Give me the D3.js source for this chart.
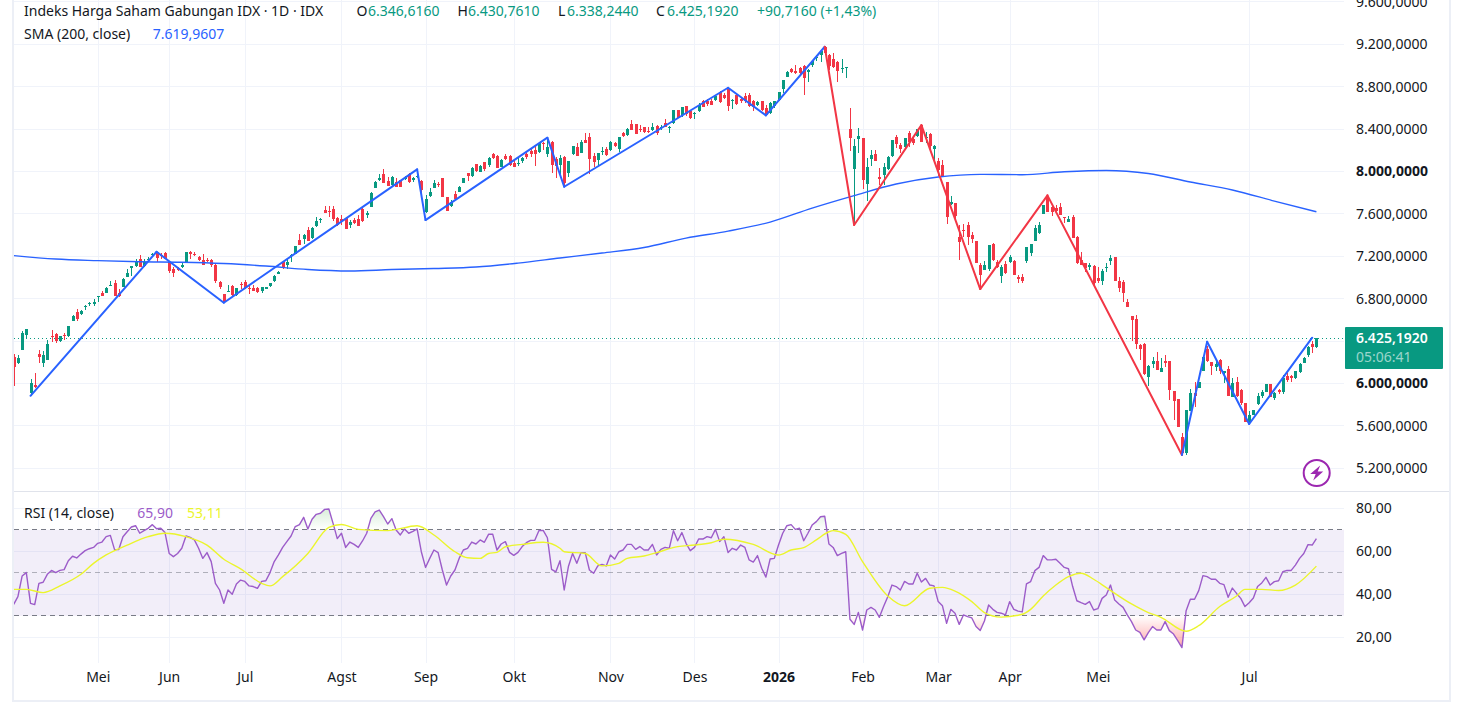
<!DOCTYPE html>
<html lang="id">
<head>
<meta charset="utf-8">
<title>Indeks Harga Saham Gabungan IDX</title>
<script src="https://cdnjs.cloudflare.com/ajax/libs/d3/7.8.5/d3.min.js"></script>
<style>
  html, body { margin: 0; padding: 0; background: #fff; overflow: hidden; }
  svg { display: block; font-family: "Noto Sans", "Open Sans", sans-serif; }
  text { font-size: 14px; fill: #131722; }
</style>
</head>
<body>
<svg id="chart" width="1462" height="715"></svg>
<script>
// Daily candles, one entry per trading session
const candleOpen = [
6253,6190,6316,6454,5907,5986,6278,6196,6221,6448,
6470,6404,6454,6448,6593,6674,6655,6718,6753,6750,
6816,6850,6857,6923,6945,6850,6913,7005,7093,7105,
7174,7108,7162,7209,7240,7212,7231,7143,7077,7089,
7102,7143,7237,7222,7193,7165,7162,7165,7118,6961,
6841,6863,6920,6838,6939,6954,6901,6898,6901,6876,
6894,6920,6967,7036,7143,7121,7203,7225,7354,7363,
7448,7373,7485,7542,7636,7630,7643,7561,7548,7564,
7492,7542,7548,7646,7586,7668,7847,7916,7976,7907,
7872,7901,7919,7929,7976,7919,7951,7910,7621,7772,
7847,7885,7938,7756,7674,7784,7809,7894,7982,7957,
8067,7998,8086,8061,8164,8142,8045,8146,8146,8079,
8070,8095,8168,8196,8202,8183,8268,8164,8278,8114,
8061,8139,7985,8164,8234,8174,8297,8325,8146,8108,
8186,8215,8202,8271,8212,8366,8341,8447,8444,8400,
8416,8385,8391,8429,8410,8457,8410,8460,8576,8529,
8617,8570,8548,8573,8664,8661,8668,8674,8749,8724,
8781,8664,8718,8686,8712,8718,8668,8624,8664,8598,
8548,8617,8671,8775,8891,8966,8951,8973,8995,8938,
9001,9067,9102,9177,9098,9061,9036,8970,8976,8397,
8026,8306,8313,7885,8121,8165,7945,7967,8020,8146,
8325,8250,8234,8360,8303,8338,8438,8322,8354,8212,
8099,8061,7897,7693,7699,7385,7448,7495,7404,7347,
7121,7070,7077,7316,7149,7017,7127,7149,7158,7001,
7004,7158,7234,7347,7416,7599,7756,7668,7655,7662,
7570,7526,7570,7382,7165,7139,7102,7108,6992,6970,
7092,7155,7190,6967,6957,6772,6633,6605,6363,6372,
6064,6184,6215,6111,6215,6212,5929,5853,5492,5347,
5743,5907,5960,6121,6328,6202,6158,6221,6095,6133,
5875,6014,5938,5812,5624,5702,5806,5882,5923,5992,
5866,5938,5923,6067,6070,6051,6108,6196,6265,6372,
6346.6];

const candleHigh = [
6278,6269,6495,6514,6042,6096,6316,6306,6410,6504,
6479,6448,6473,6542,6643,6699,6693,6737,6769,6794,
6825,6872,6913,6970,6976,6888,6992,7077,7108,7171,
7212,7171,7190,7234,7244,7228,7240,7159,7096,7096,
7134,7240,7250,7237,7203,7222,7181,7174,7134,6964,
6844,6926,6926,6901,6961,6976,6920,6929,6913,6913,
6913,6951,7023,7064,7159,7171,7222,7297,7410,7410,
7479,7473,7573,7558,7677,7677,7674,7567,7589,7573,
7542,7558,7589,7662,7630,7809,7910,7976,8023,7951,
7960,7935,7919,7957,7982,7951,7998,7919,7778,7841,
7919,7904,7941,7762,7731,7819,7863,7941,7989,8039,
8070,8061,8092,8133,8171,8155,8114,8164,8155,8108,
8124,8139,8193,8218,8240,8271,8281,8297,8287,8133,
8152,8146,8101,8240,8265,8297,8359,8359,8171,8177,
8234,8227,8287,8281,8328,8375,8407,8485,8447,8438,
8416,8422,8454,8438,8438,8491,8429,8580,8580,8611,
8620,8580,8561,8642,8674,8680,8680,8721,8762,8737,
8784,8680,8731,8699,8737,8737,8674,8661,8668,8627,
8655,8668,8752,8863,8951,8973,9004,8982,9004,8963,
9051,9095,9139,9183,9108,9114,9045,9061,8982,8596,
8303,8407,8313,8124,8199,8203,8030,8083,8146,8297,
8344,8265,8319,8382,8328,8397,8445,8375,8360,8250,
8130,8108,7904,7769,7706,7495,7504,7526,7432,7347,
7133,7155,7309,7322,7165,7117,7158,7212,7165,7023,
7033,7290,7316,7495,7526,7687,7762,7690,7684,7699,
7573,7580,7589,7391,7240,7139,7133,7117,7102,7077,
7133,7212,7190,7001,6976,6794,6637,6646,6372,6379,
6174,6246,6297,6237,6268,6215,5932,5856,5529,5750,
5945,6017,6017,6253,6353,6206,6215,6228,6121,6165,
6048,6058,5945,5812,5737,5750,5907,5938,5995,5995,
5923,5945,6080,6095,6080,6118,6196,6253,6353,6404,
6430.8];

const candleLow = [
5976,6184,6316,6423,5885,5954,6196,6159,6221,6394,
6385,6394,6410,6435,6586,6593,6646,6693,6731,6731,
6769,6825,6850,6920,6825,6813,6907,7001,7017,7096,
7096,7102,7149,7196,7143,7171,7171,7045,7008,7064,
7086,7140,7178,7203,7156,7121,7146,7102,6945,6888,
6762,6863,6825,6828,6888,6888,6844,6869,6857,6857,
6891,6913,6961,7033,7077,7077,7146,7222,7306,7316,
7344,7363,7479,7517,7605,7573,7536,7485,7495,7454,
7463,7504,7485,7526,7558,7662,7841,7913,7888,7863,
7866,7850,7850,7919,7894,7904,7941,7762,7605,7762,
7841,7856,7756,7630,7668,7731,7803,7891,7913,7951,
7998,7998,8007,8045,8114,8029,8039,8108,8054,8039,
8051,8076,8114,8139,8051,8177,8202,8139,7982,7935,
7976,7856,7944,8158,8146,8171,8265,7973,8039,8051,
8155,8146,8196,8227,8186,8322,8334,8391,8350,8375,
8366,8359,8385,8344,8391,8416,8366,8447,8501,8510,
8523,8498,8498,8564,8605,8617,8624,8668,8642,8680,
8573,8592,8627,8649,8642,8611,8570,8617,8573,8523,
8542,8595,8668,8743,8888,8932,8919,8919,8721,8847,
8988,9045,9036,9098,8957,8973,8847,8926,8885,8196,
7495,8177,7831,7725,8055,8102,7872,7872,8014,8133,
8218,8171,8218,8228,8250,8328,8281,8265,8203,8092,
7957,7945,7501,7684,7542,7165,7385,7306,7328,7133,
6897,7070,7061,7158,7086,6951,7033,7140,7023,6944,
6951,7133,7202,7347,7410,7599,7621,7580,7611,7589,
7517,7523,7375,7127,7117,7055,7070,6913,6951,6929,
7055,7117,6970,6866,6772,6718,6404,6325,6221,6080,
5976,6143,6127,6111,6152,5844,5655,5592,5334,5325,
5743,5781,5954,6121,6206,6080,6121,6089,6001,5882,
5869,5869,5797,5640,5617,5702,5800,5860,5923,5869,
5844,5901,5901,6017,6017,6039,6102,6196,6253,6290,
6338.2];

const candleClose = [
6159,6237,6473,6514,6001,5964,6250,6269,6372,6435,
6401,6445,6445,6539,6637,6611,6684,6731,6759,6766,
6822,6828,6901,6929,6828,6825,6986,7042,7105,7149,
7096,7149,7171,7222,7187,7203,7178,7064,7045,7074,
7118,7237,7222,7209,7168,7121,7156,7115,6970,6907,
6769,6869,6832,6898,6932,6901,6888,6876,6863,6907,
6907,6945,7017,7055,7086,7149,7212,7297,7310,7401,
7347,7464,7536,7548,7611,7624,7548,7492,7536,7460,
7526,7511,7485,7532,7611,7800,7901,7941,7894,7866,
7951,7856,7856,7951,7901,7935,7960,7825,7740,7803,
7894,7875,7762,7630,7715,7737,7856,7935,7957,8029,
8001,8055,8023,8127,8124,8032,8105,8114,8061,8042,
8079,8124,8133,8164,8164,8265,8259,8227,8061,8054,
8127,7894,8095,8237,8149,8274,8271,8120,8086,8171,
8193,8158,8278,8240,8322,8334,8400,8394,8356,8391,
8372,8372,8416,8359,8416,8422,8422,8576,8507,8605,
8542,8504,8554,8630,8611,8636,8630,8715,8652,8696,
8617,8674,8639,8661,8661,8620,8611,8655,8580,8529,
8649,8661,8746,8859,8941,8941,8926,8926,8885,8960,
9045,9076,9133,9114,8995,8988,8947,8976,8982,8319,
8240,8335,7919,8039,8155,8102,7932,8039,8140,8294,
8259,8212,8313,8281,8272,8397,8281,8328,8240,8240,
8014,7945,7574,7712,7580,7338,7441,7385,7363,7140,
7023,7117,7303,7165,7095,7102,7039,7196,7023,6989,
6963,7284,7312,7470,7498,7681,7621,7621,7630,7589,
7564,7551,7375,7133,7117,7086,7114,6951,6963,7064,
7102,7184,6970,6900,6857,6721,6599,6372,6322,6089,
6168,6215,6127,6143,6196,5938,5838,5592,5341,5746,
5907,5882,6011,6253,6215,6168,6184,6121,6114,5882,
6001,5882,5812,5640,5702,5746,5882,5923,5992,5875,
5913,5919,6055,6033,6048,6114,6184,6243,6341,6341,
6425.2];

// Relative strength index for each session
const rsiValues = [
35.3,38.9,48.5,50.1,35.8,35.2,45.1,45.6,49.3,51.1,
50.1,51.1,51.5,55.6,57.7,56.9,58.7,60.3,61.2,61.8,
63.7,64.3,66.8,67.4,60.8,60.8,66.8,69.1,71.3,71.9,
68.4,69.6,70.7,72.4,70.5,70.7,68.7,59.0,57.5,59.0,
61.4,67.1,66.5,65.3,61.4,56.7,59.4,55.2,45.1,42.0,
35.8,42.0,40.0,44.8,46.6,46.0,43.9,43.6,42.8,46.0,
46.3,50.1,55.2,58.3,61.8,64.5,67.1,71.5,72.4,75.8,
70.4,74.9,77.2,77.7,79.5,79.7,73.0,65.9,68.4,61.8,
64.3,63.2,61.8,64.8,68.4,75.3,78.3,79.2,76.1,72.7,
75.2,69.9,67.6,70.4,68.4,69.3,70.4,59.8,52.5,56.7,
60.6,59.4,51.3,44.3,48.5,51.3,56.7,60.6,61.4,64.3,
63.4,65.3,64.2,67.9,67.9,60.6,63.4,64.5,59.5,58.1,
59.5,62.2,64.0,65.1,65.1,69.7,69.7,66.3,51.6,50.4,
55.6,42.0,52.9,59.0,54.4,59.4,59.4,51.3,49.8,53.2,
53.9,53.2,58.3,56.4,59.8,60.6,63.2,63.2,60.9,62.2,
60.6,60.6,63.2,58.3,60.9,61.8,61.4,69.6,64.9,68.7,
63.7,60.3,61.8,65.7,65.7,66.8,66.3,70.2,64.5,66.8,
59.4,61.4,60.6,62.9,61.8,56.0,55.0,58.0,52.1,48.0,
56.4,56.7,62.9,68.4,71.9,72.4,70.2,70.7,64.9,68.4,
72.2,73.8,76.1,76.3,63.4,61.8,58.0,59.0,59.8,28.4,
26.0,31.6,23.4,32.7,33.9,32.7,29.3,34.3,38.9,44.3,
43.6,42.0,46.0,44.8,44.8,49.8,45.7,47.4,44.3,43.9,
36.6,34.7,26.5,33.0,31.2,26.0,30.4,29.6,29.0,25.0,
23.2,27.6,35.0,33.0,31.6,31.2,30.4,36.6,33.0,32.2,
31.8,44.8,45.9,51.0,52.5,58.0,56.0,56.0,56.3,54.4,
52.5,51.9,43.6,37.0,36.1,35.3,36.6,32.7,33.3,38.1,
39.7,44.3,37.3,35.5,33.9,30.4,27.3,23.4,22.3,18.8,
22.2,25.0,23.4,23.4,27.3,23.1,21.5,18.4,15.2,32.4,
37.7,37.7,41.7,48.7,48.2,47.0,47.0,45.1,44.5,38.6,
42.9,40.4,38.1,34.3,36.1,38.3,43.6,45.3,47.9,44.3,
45.9,46.3,50.5,51.1,51.1,53.6,56.7,59.0,63.1,62.9,
65.9];

// Moving average of the RSI, read at its bends
const rsiMaBars = [0,3,7,11,16,19,22,27,32,36,41,46,50,54,59,61,64,70,75,78,82,89,96,100,105,108,111,113,115,117,121,126,130,131,136,140,144,146,150,153,158,162,166,169,176,182,185,188,191,194,195,198,202,208,212,218,221,224,228,231,235,240,242,245,248,251,254,257,260,266,270,273,279,282,287,291,293,297,301,305,310];
const rsiMaValues = [42.3,42.3,40.8,43.9,49.3,54.4,58.3,62.9,66.8,68.4,66.8,62.9,56.3,51.8,45.1,43.9,48.2,59.0,71.1,72.5,70.2,69.6,71.9,67.6,59.8,57.0,56.7,59.0,59.5,62.1,63.2,64.2,61.4,59.8,59.0,53.2,54.4,56.7,57.8,59.4,62.2,62.9,64.0,65.6,63.2,58.3,60.6,61.7,65.3,69.1,69.6,67.9,55.2,39.2,34.7,42.8,43.2,41.5,36.6,31.5,29.4,30.7,33.0,39.2,44.3,48.2,49.8,47.0,43.1,35.5,31.5,29.3,22.8,25.4,34.3,39.2,42.3,42.3,41.8,44.3,53.11];

// 200-day simple moving average, read every ten sessions
const smaBars = [0,10,20,30,40,50,60,70,80,90,100,110,120,130,140,150,160,170,180,190,200,210,220,230,240,250,260,270,280,290,300,310];
const smaValues = [7207,7174,7159,7148,7144,7132,7108,7075,7061,7075,7085,7099,7136,7184,7231,7283,7372,7438,7523,7655,7773,7882,7948,7973,7970,7997,8010,7981,7901,7825,7721,7619.96];

// Zigzag pivots and the regime of the leg leading away from each one
const zigzagBars = [4,34,50,96,98,127,131,170,179,193,200,216,230,246,278,284,294,309];
const zigzagPrices = [5884,7243,6762,8020,7542,8319,7856,8790,8530,9177,7495,8438,6891,7775,5325,6394,5618,6432];
const zigzagRegimes = ["bull","bull","bull","bull","bull","bull","bull","bull","bull","bear","bear","bear","bear","bear","bull","bull","bull"];

// Month boundaries on the time axis
const monthBars = [20,37,55,78,98,119,142,162,182,202,220,237,258,294];
const monthLabels = ["Mei","Jun","Jul","Agst","Sep","Okt","Nov","Des","2026","Feb","Mar","Apr","Mei","Jul"];

const priceTicks = [9600,9200,8800,8400,8000,7600,7200,6800,6400,6000,5600,5200];
const priceLabelled = [9600,9200,8800,8400,8000,7600,7200,6800,6000,5600,5200];
const priceStrong = [8000,6000];
const rsiTicks = [80,60,40,20];
const rsiBands = [70,50,30];

const lastPrice = 6425.192;
const lastClockText = "05:06:41";

const GREEN = "#089981", RED = "#f23645", BLUE = "#2962ff";
const PURPLE = "#9c5cc9", YELLOW = "#ebf52c", GRID = "#f0f3fa", INK = "#131722";

const svg = d3.select("#chart");
const plotLeft = 14, plotRight = 1344, axisTextX = 1356;

const idLocale = d3.formatLocale({ decimal: ",", thousands: ".", grouping: [3], currency: ["", ""] });
const fmtPrice = idLocale.format(",.4f");
const fmtRsi = idLocale.format(".2f");

const x = d3.scaleLinear().domain([0, 310]).range([13.7, 1316.4]);
const y = d3.scaleLinear().domain([5200, 9200]).range([468.3, 44.3]);
const yRsi = d3.scaleLinear().domain([20, 80]).range([637.3, 508.3]);
const snap = v => Math.round(x(v)) + 0.5;

const defs = svg.append("defs");
defs.append("clipPath").attr("id", "plotClip")
  .append("rect").attr("x", plotLeft).attr("y", 0).attr("width", plotRight - plotLeft).attr("height", 491);
defs.append("clipPath").attr("id", "aboveBand")
  .append("rect").attr("x", plotLeft).attr("y", 492).attr("width", plotRight - plotLeft).attr("height", yRsi(70) - 492);
defs.append("clipPath").attr("id", "belowBand")
  .append("rect").attr("x", plotLeft).attr("y", yRsi(30)).attr("width", plotRight - plotLeft).attr("height", 663 - yRsi(30));

const greenGrad = defs.append("linearGradient").attr("id", "obFill").attr("gradientUnits", "userSpaceOnUse")
  .attr("x1", 0).attr("x2", 0).attr("y1", yRsi(82)).attr("y2", yRsi(70));
greenGrad.append("stop").attr("offset", 0).attr("stop-color", "#4caf50").attr("stop-opacity", 0.26);
greenGrad.append("stop").attr("offset", 1).attr("stop-color", "#4caf50").attr("stop-opacity", 0);
const redGrad = defs.append("linearGradient").attr("id", "osFill").attr("gradientUnits", "userSpaceOnUse")
  .attr("x1", 0).attr("x2", 0).attr("y1", yRsi(14)).attr("y2", yRsi(30));
redGrad.append("stop").attr("offset", 0).attr("stop-color", "#ff5252").attr("stop-opacity", 0.55);
redGrad.append("stop").attr("offset", 1).attr("stop-color", "#ff5252").attr("stop-opacity", 0);

// Gridlines of both panes
const grid = svg.append("g").attr("stroke", GRID).attr("stroke-width", 1).attr("fill", "none");
grid.selectAll("line.v1").data(monthBars).join("line")
  .attr("x1", snap).attr("x2", snap).attr("y1", 0).attr("y2", 490);
grid.selectAll("line.v2").data(monthBars).join("line")
  .attr("x1", snap).attr("x2", snap).attr("y1", 492).attr("y2", 663);
grid.selectAll("line.h1").data(priceTicks).join("line")
  .attr("x1", plotLeft).attr("x2", plotRight)
  .attr("y1", d => Math.floor(y(d)) + 0.5).attr("y2", d => Math.floor(y(d)) + 0.5);
grid.selectAll("line.h2").data(rsiTicks).join("line")
  .attr("x1", plotLeft).attr("x2", plotRight)
  .attr("y1", d => Math.floor(yRsi(d)) + 0.5).attr("y2", d => Math.floor(yRsi(d)) + 0.5);

// Last price marker line
svg.append("line")
  .attr("x1", plotLeft).attr("x2", plotRight)
  .attr("y1", Math.floor(y(lastPrice)) + 0.5).attr("y2", Math.floor(y(lastPrice)) + 0.5)
  .attr("stroke", GREEN).attr("stroke-width", 1).attr("stroke-dasharray", "1 3");

// Candlesticks
const candles = svg.append("g").attr("clip-path", "url(#plotClip)").attr("shape-rendering", "crispEdges");
const bars = candleClose.map((c, i) => ({ i, o: candleOpen[i], h: candleHigh[i], l: candleLow[i], c }));
const candleColor = d => d.c >= d.o ? GREEN : RED;
candles.selectAll("rect.wick").data(bars).join("rect").attr("class", "wick")
  .attr("x", d => Math.round(x(d.i)))
  .attr("width", 1)
  .attr("y", d => y(d.h))
  .attr("height", d => Math.max(1, y(d.l) - y(d.h)))
  .attr("fill", candleColor);
candles.selectAll("rect.body").data(bars).join("rect").attr("class", "body")
  .attr("x", d => Math.round(x(d.i)) - 1)
  .attr("width", 3)
  .attr("y", d => y(Math.max(d.o, d.c)))
  .attr("height", d => Math.max(1, Math.abs(y(d.o) - y(d.c))))
  .attr("fill", candleColor);

// 200-day moving average
const priceLayer = svg.append("g").attr("clip-path", "url(#plotClip)").attr("fill", "none");
priceLayer.append("path")
  .datum(d3.zip(smaBars, smaValues))
  .attr("d", d3.line().x(d => x(d[0])).y(d => y(d[1])).curve(d3.curveMonotoneX))
  .attr("stroke", BLUE).attr("stroke-width", 1.4);

// Zigzag legs coloured by regime
const regimeColor = d3.scaleOrdinal().domain(["bull", "bear"]).range([BLUE, RED]);
const legs = zigzagRegimes.map((regime, k) => ({
  regime,
  points: [[zigzagBars[k], zigzagPrices[k]], [zigzagBars[k + 1], zigzagPrices[k + 1]]]
}));
const legLine = d3.line().x(d => x(d[0])).y(d => y(d[1]));
priceLayer.selectAll("path.leg").data(legs).join("path").attr("class", "leg")
  .attr("d", d => legLine(d.points))
  .attr("stroke", d => regimeColor(d.regime))
  .attr("stroke-width", 2)
  .attr("stroke-linejoin", "round")
  .attr("stroke-linecap", "round");

// RSI pane
const rsi = svg.append("g");
rsi.append("rect")
  .attr("x", plotLeft).attr("width", plotRight - plotLeft)
  .attr("y", yRsi(70)).attr("height", yRsi(30) - yRsi(70))
  .attr("fill", "#7e57c2").attr("fill-opacity", 0.1);
rsi.selectAll("line.band").data(rsiBands).join("line").attr("class", "band")
  .attr("x1", plotLeft).attr("x2", plotRight)
  .attr("y1", d => Math.floor(yRsi(d)) + 0.5).attr("y2", d => Math.floor(yRsi(d)) + 0.5)
  .attr("stroke", "#787b86")
  .attr("stroke-opacity", d => d === 50 ? 0.55 : 1)
  .attr("stroke-dasharray", "5 4");

const rsiPoints = rsiValues.map((v, i) => [i, v]);
rsi.append("path").datum(rsiPoints).attr("clip-path", "url(#aboveBand)")
  .attr("d", d3.area().x(d => x(d[0])).y0(yRsi(70)).y1(d => yRsi(d[1])))
  .attr("fill", "url(#obFill)");
rsi.append("path").datum(rsiPoints).attr("clip-path", "url(#belowBand)")
  .attr("d", d3.area().x(d => x(d[0])).y0(yRsi(30)).y1(d => yRsi(d[1])))
  .attr("fill", "url(#osFill)");
rsi.append("path").datum(rsiPoints).attr("fill", "none")
  .attr("d", d3.line().x(d => x(d[0])).y(d => yRsi(d[1])))
  .attr("stroke", PURPLE).attr("stroke-width", 1.4).attr("stroke-linejoin", "round");
rsi.append("path").datum(d3.zip(rsiMaBars, rsiMaValues)).attr("fill", "none")
  .attr("d", d3.line().x(d => x(d[0])).y(d => yRsi(d[1])).curve(d3.curveMonotoneX))
  .attr("stroke", YELLOW).attr("stroke-width", 1.4);

// Frame and pane separator
const frame = svg.append("g").attr("fill", "#eceff6").attr("shape-rendering", "crispEdges");
frame.append("rect").attr("x", 12).attr("y", 0).attr("width", 2).attr("height", 702);
frame.append("rect").attr("x", 1449).attr("y", 0).attr("width", 2).attr("height", 702);
frame.append("rect").attr("x", 12).attr("y", 700).attr("width", 1439).attr("height", 2);
frame.append("rect").attr("x", 14).attr("y", 490.5).attr("width", 1435).attr("height", 1.5).attr("fill", "#e0e3eb");

// Axes, price and RSI on the right, months along the bottom
const strip = g => { g.select(".domain").remove(); g.selectAll(".tick line").remove(); g.attr("font-family", null).attr("font-size", null); };

const priceAxis = svg.append("g").attr("transform", `translate(${axisTextX},0)`)
  .call(d3.axisRight(y).tickValues(priceLabelled).tickFormat(fmtPrice).tickSize(0).tickPadding(0))
  .call(strip);
priceAxis.selectAll("text")
  .style("font-weight", d => priceStrong.includes(d) ? 700 : 400);

svg.append("g").attr("transform", `translate(${axisTextX},0)`)
  .call(d3.axisRight(yRsi).tickValues(rsiTicks).tickFormat(fmtRsi).tickSize(0).tickPadding(0))
  .call(strip);

const monthAxis = svg.append("g").attr("transform", "translate(0,672)")
  .call(d3.axisBottom(x).tickValues(monthBars)
    .tickFormat((d, k) => monthLabels[k]).tickSize(0).tickPadding(0))
  .call(strip);
monthAxis.selectAll("text").style("font-weight", (d, k) => monthLabels[k] === "2026" ? 700 : 400);

// Last price tag
const tagColor = GREEN;
svg.append("rect").attr("x", 1345).attr("y", 327).attr("width", 98).attr("height", 42).attr("rx", 1).attr("fill", tagColor);
svg.append("text").attr("x", axisTextX).attr("y", 342.5).style("fill", "#fff").style("font-weight", 600).text(fmtPrice(lastPrice));
svg.append("text").attr("x", axisTextX).attr("y", 361.5).style("fill", "#fff").style("fill-opacity", 0.6).text(lastClockText);

// Legend rows
function legendRow(yPos, items) {
  const row = svg.append("g");
  items.forEach(it => row.append("text").attr("x", it.x).attr("y", yPos)
    .style("fill", it.color || INK).text(it.text));
}
const last = bars[bars.length - 1];
const prevClose = 6334.4764;
const change = lastPrice - prevClose;
legendRow(16, [
  { x: 24, text: "Indeks Harga Saham Gabungan IDX · 1D · IDX" },
  { x: 356.5, text: "O" }, { x: 368, text: "6.346,6160", color: GREEN },
  { x: 457.5, text: "H" }, { x: 468, text: "6.430,7610", color: GREEN },
  { x: 558, text: "L" }, { x: 567, text: "6.338,2440", color: GREEN },
  { x: 656, text: "C" }, { x: 667, text: "6.425,1920", color: GREEN },
  { x: 757, text: "+90,7160 (+1,43%)", color: GREEN }
]);
legendRow(39, [
  { x: 24, text: "SMA (200, close)" },
  { x: 152.7, text: "7.619,9607", color: BLUE }
]);
legendRow(517.5, [
  { x: 24, text: "RSI (14, close)" },
  { x: 137.3, text: "65,90", color: PURPLE },
  { x: 187, text: "53,11", color: YELLOW }
]);

// Flash badge in the lower right of the price pane
const badge = svg.append("g").attr("transform", "translate(1316.7,473)");
badge.append("circle").attr("r", 13).attr("fill", "#fff").attr("stroke", "#9c27b0").attr("stroke-width", 2);
badge.append("path").attr("d", "M3.5,-7.5 L-6.5,1 L-1,1 L-3.5,7.5 L6.5,-1.5 L1,-1.5 Z").attr("fill", "#9c27b0");
</script>
</body>
</html>
